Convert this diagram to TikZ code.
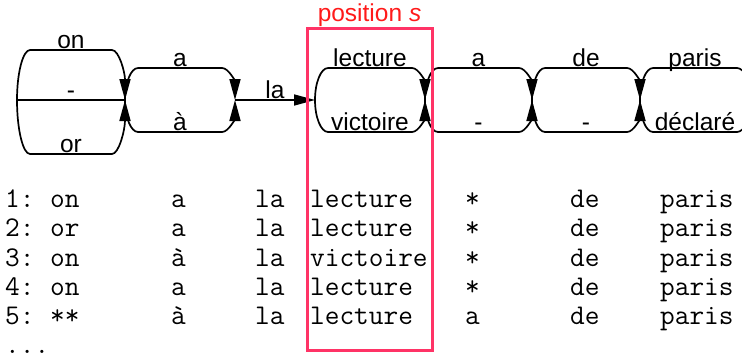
\documentclass[tikz,border=0pt]{standalone}
\usepackage{fontspec}
\setmainfont{Liberation Sans}
\usepackage{xcolor}
\usetikzlibrary{arrows.meta,calc}

\definecolor{boxred}{HTML}{FF3366}
\definecolor{txtred}{HTML}{FF1A1A}

\tikzset{
  edge/.style={line width=1.7pt,-{Triangle[length=21pt,width=11pt]}},
  plain/.style={line width=1.7pt},
  over/.style={to path={.. controls +(0,{-0.55*(#1)}) and +(-7,0) .. ++(13,{-(#1)})
      -- ($(\tikztotarget)+(-13,{-(#1)})$) \tikztonodes
      .. controls +(7,0) and +(0,{-0.55*(#1)}) .. (\tikztotarget)}},
  lbl/.style={anchor=base,yshift=2pt,inner sep=0pt,font=\fontsize{24.5}{28}\selectfont},
  cell/.style={anchor=base west,inner sep=0pt,font=\fontsize{28.5}{30}\selectfont\ttfamily},
  posbox/.style={draw=boxred,line width=3pt,outer sep=0pt,inner sep=0pt,
      minimum width=125pt,minimum height=322pt},
}

\begin{document}
\begin{tikzpicture}[x=1pt,y=-1pt]
	\clip (0,0) rectangle (742,359);
	% lattice points
	\coordinate (n0) at (17,100);
	\coordinate (n1) at (125,100);
	\coordinate (n2) at (235,100);
	\coordinate (n3) at (315,100);
	\coordinate (n4) at (425,100);
	\coordinate (n5) at (532,100);
	\coordinate (n6) at (640,100);
	\coordinate (n7) at (750,100);
	% alternatives between the points
	\draw[edge] (n0) to[over=50] node[lbl] (w-on) {on} (n1);
	\draw[plain] (n0) -- node[lbl] (w-gap) {-} (n1);
	\draw[edge] (n0) to[over=-54] node[lbl] (w-or) {or} (n1);
	\draw[edge] (n1) to[over=32] node[lbl] (w-a) {a} (n2);
	\draw[edge] (n1) to[over=-32] node[lbl] (w-agrave) {à} (n2);
	\draw[edge] (n2) -- node[lbl] (w-la) {la} (n3);
	\draw[edge] (n3) to[over=32] node[lbl] (w-lecture) {lecture} (n4);
	\draw[edge] (n3) to[over=-32] node[lbl] (w-victoire) {victoire} (n4);
	\draw[edge] (n4) to[over=32] node[lbl] (w-a2) {a} (n5);
	\draw[edge] (n4) to[over=-32] node[lbl] (w-gap2) {-} (n5);
	\draw[edge] (n5) to[over=32] node[lbl] (w-de) {de} (n6);
	\draw[edge] (n5) to[over=-32] node[lbl] (w-gap3) {-} (n6);
	\draw[edge] (n6) to[over=32] node[lbl] (w-paris) {paris} (n7);
	\draw[edge] (n6) to[over=-32] node[lbl] (w-declare) {déclaré} (n7);
	% hypotheses
	\path (5,207) node[cell] (r1-0) {1:} (50,207) node[cell] (r1-1) {on}
		(171,207) node[cell] (r1-2) {a} (255,207) node[cell] (r1-3) {la}
		(310,207) node[cell] (r1-4) {lecture} (465,207) node[cell] (r1-5) {*}
		(570,207) node[cell] (r1-6) {de} (660,207) node[cell] (r1-7) {paris};
	\path (5,236) node[cell] (r2-0) {2:} (50,236) node[cell] (r2-1) {or}
		(171,236) node[cell] (r2-2) {a} (255,236) node[cell] (r2-3) {la}
		(310,236) node[cell] (r2-4) {lecture} (465,236) node[cell] (r2-5) {*}
		(570,236) node[cell] (r2-6) {de} (660,236) node[cell] (r2-7) {paris};
	\path (5,266) node[cell] (r3-0) {3:} (50,266) node[cell] (r3-1) {on}
		(171,266) node[cell] (r3-2) {à} (255,266) node[cell] (r3-3) {la}
		(310,266) node[cell] (r3-4) {victoire} (465,266) node[cell] (r3-5) {*}
		(570,266) node[cell] (r3-6) {de} (660,266) node[cell] (r3-7) {paris};
	\path (5,295) node[cell] (r4-0) {4:} (50,295) node[cell] (r4-1) {on}
		(171,295) node[cell] (r4-2) {a} (255,295) node[cell] (r4-3) {la}
		(310,295) node[cell] (r4-4) {lecture} (465,295) node[cell] (r4-5) {*}
		(570,295) node[cell] (r4-6) {de} (660,295) node[cell] (r4-7) {paris};
	\path (5,324) node[cell] (r5-0) {5:} (50,324) node[cell] (r5-1) {**}
		(171,324) node[cell] (r5-2) {à} (255,324) node[cell] (r5-3) {la}
		(310,324) node[cell] (r5-4) {lecture} (465,324) node[cell] (r5-5) {a}
		(570,324) node[cell] (r5-6) {de} (660,324) node[cell] (r5-7) {paris};
	\node[cell] (r-more) at (5,353) {...};
	% position s
	\node[posbox] (win) at (369.5,189) {};
	\node[lbl,text=txtred,yshift=5pt] (win-lbl) at (win.north) {position \textit{s}};
\end{tikzpicture}
\end{document}
